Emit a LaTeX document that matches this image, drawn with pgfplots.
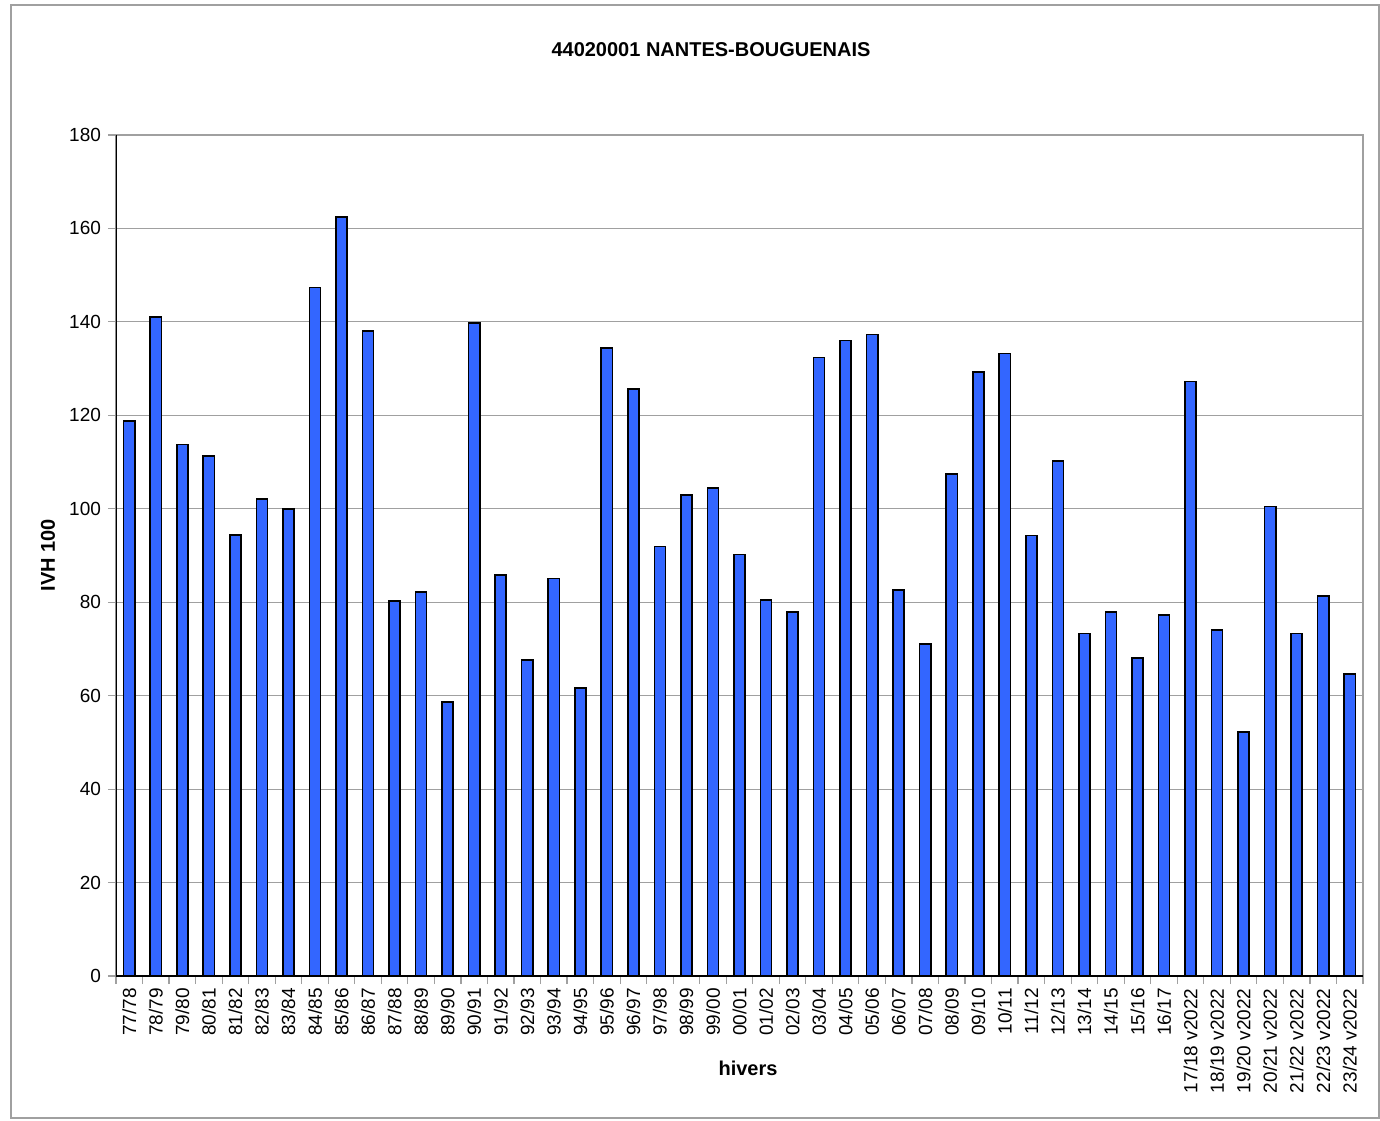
\documentclass[border=0pt]{standalone}
\usepackage{pgfplots}
\pgfplotsset{compat=1.18}
\usepackage{fontspec}
\setmainfont{Liberation Sans}
\definecolor{barblue}{HTML}{3366FF}
\definecolor{gridgray}{HTML}{A0A0A0}
\begin{document}
\begin{tikzpicture}
\useasboundingbox (0,0) rectangle (690pt,560pt);
\draw[gridgray, line width=0.6pt] (5.5pt,1pt) rectangle (689.5pt,557.5pt);
\begin{axis}[
  at={(58pt,72pt)}, anchor=south west, scale only axis,
  width=623.5pt, height=420.5pt,
  xmin=-0.5, xmax=46.5, ymin=0, ymax=180,
  ytick={0,20,...,180},
  ymajorgrids, grid style={gridgray, line width=0.6pt},
  axis line style={gridgray, line width=0.6pt},
  tick align=outside, tick pos=left,
  y tick style={gridgray, line width=0.6pt},
  major tick length=4pt, minor tick length=4pt,
  xtick={0,...,46},
  major x tick style={draw=none},
  minor xtick={-0.5,0.5,...,46.5},
  minor x tick style={gridgray, line width=0.6pt},
  xticklabels={77/78,78/79,79/80,80/81,81/82,82/83,83/84,84/85,85/86,86/87,87/88,88/89,89/90,90/91,91/92,92/93,93/94,94/95,95/96,96/97,97/98,98/99,99/00,00/01,01/02,02/03,03/04,04/05,05/06,06/07,07/08,08/09,09/10,10/11,11/12,12/13,13/14,14/15,15/16,16/17,17/18 v2022,18/19 v2022,19/20 v2022,20/21 v2022,21/22 v2022,22/23 v2022,23/24 v2022},
  x tick label style={rotate=90, anchor=east, font=\fontsize{9.5}{11}\selectfont, inner sep=2pt},
  y tick label style={font=\fontsize{9.5}{11}\selectfont},
  /pgf/number format/assume math mode=true,
  ybar, bar width=0.42,
]
\addplot[fill=barblue, draw=black, line width=0.8pt] coordinates {
(0,118.8) (1,141.0) (2,113.8) (3,111.3) (4,94.4) (5,102.1) (6,99.9) (7,147.4) (8,162.4) (9,138.0)
(10,80.3) (11,82.2) (12,58.7) (13,139.8) (14,85.8) (15,67.6) (16,85.1) (17,61.6) (18,134.4) (19,125.6)
(20,91.9) (21,103.0) (22,104.5) (23,90.2) (24,80.5) (25,77.9) (26,132.4) (27,136.0) (28,137.3) (29,82.6)
(30,71.0) (31,107.4) (32,129.3) (33,133.2) (34,94.3) (35,110.2) (36,73.3) (37,77.9) (38,68.1) (39,77.3)
(40,127.2) (41,74.1) (42,52.2) (43,100.5) (44,73.3) (45,81.3) (46,64.6)
};
\draw[black, line width=0.8pt] (rel axis cs:0,1) -- (rel axis cs:0,0) -- (rel axis cs:1,0);
\end{axis}
\node[font=\bfseries\fontsize{10}{12}\selectfont] at (355.5pt,535pt) {44020001 NANTES-BOUGUENAIS};
\node[font=\bfseries\fontsize{10}{12}\selectfont] at (374pt,26pt) {hivers};
\node[font=\bfseries\fontsize{10}{12}\selectfont, rotate=90] at (24pt,282.5pt) {IVH 100};
\end{tikzpicture}
\end{document}
